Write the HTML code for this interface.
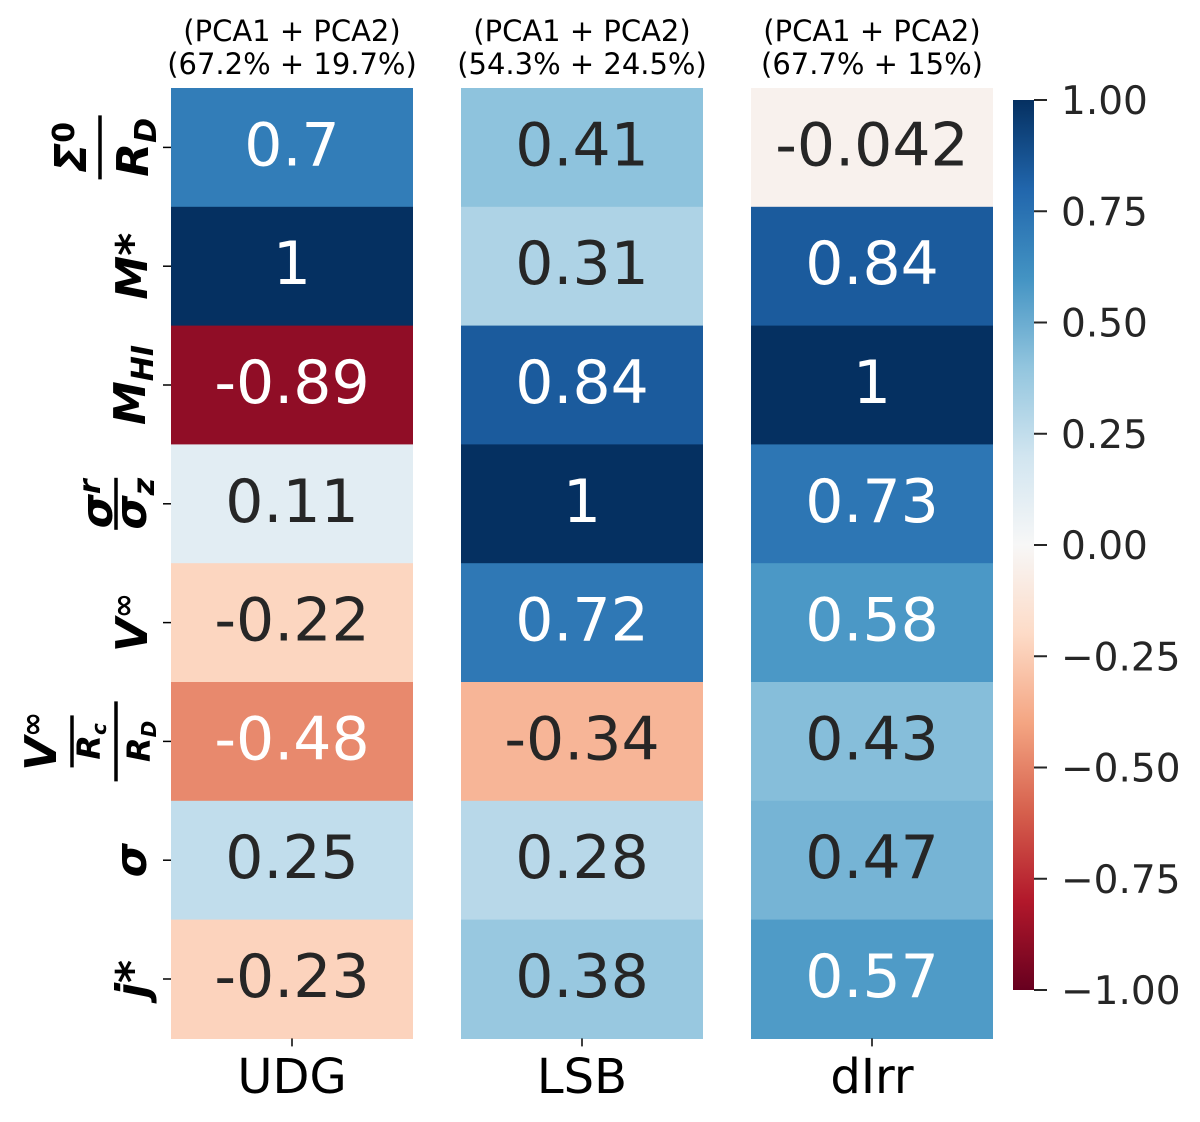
<!DOCTYPE html>
<html><head><meta charset="utf-8"><style>
html,body{margin:0;padding:0;background:#fff;}
svg{display:block;font-family:"DejaVu Sans","Liberation Sans",sans-serif;}
</style></head><body>
<svg id="chart" width="1200" height="1122" viewBox="0 0 1200 1122">
<g id="titles"></g>
<g id="cells"></g>
<g id="ylabels"></g>
<g id="xlabels"></g>
<g id="cbar"></g>
</svg>
<script>
const groups = ["UDG","LSB","dIrr"];
const titleLine1 = ["(PCA1 + PCA2)","(PCA1 + PCA2)","(PCA1 + PCA2)"];
const titleLine2 = ["(67.2% + 19.7%)","(54.3% + 24.5%)","(67.7% + 15%)"];
const udgValues = [0.7, 1, -0.89, 0.11, -0.22, -0.48, 0.25, -0.23];
const lsbValues = [0.41, 0.31, 0.84, 1, 0.72, -0.34, 0.28, 0.38];
const dirrValues = [-0.042, 0.84, 1, 0.73, 0.58, 0.43, 0.47, 0.57];
const cbarTicks = [1.00, 0.75, 0.50, 0.25, 0.00, -0.25, -0.50, -0.75, -1.00];
const cbarTickLabels = ["1.00","0.75","0.50","0.25","0.00","\u22120.25","\u22120.50","\u22120.75","\u22121.00"];

const NS="http://www.w3.org/2000/svg";
function mk(tag, attrs, parent, text){const e=document.createElementNS(NS,tag);for(const k in attrs)e.setAttribute(k,attrs[k]);if(text!==undefined)e.textContent=text;parent.appendChild(e);return e;}
const rdbu=["#67001f","#b2182b","#d6604d","#f4a582","#fddbc7","#f7f7f7","#d1e5f0","#92c5de","#4393c3","#2166ac","#053061"];
function hex(h){return [1,3,5].map(i=>parseInt(h.substr(i,2),16));}
function cmap(v){let t=(v+1)/2;t=Math.max(0,Math.min(1,t));const p=t*10;const i=Math.min(9,Math.floor(p));const f=p-i;const a=hex(rdbu[i]),b=hex(rdbu[i+1]);return a.map((x,k)=>Math.round(x+(b[k]-x)*f));}
function rgb(c){return `rgb(${c[0]},${c[1]},${c[2]})`;}
function lum(c){const l=c.map(x=>{x/=255;return x<=0.03928?x/12.92:Math.pow((x+0.055)/1.055,2.4);});return 0.2126*l[0]+0.7152*l[1]+0.0722*l[2];}

const colX=[171,461,751], colW=242, topY=88, rowH=118.8;
const yOf=i=>topY+i*rowH;
const series=[udgValues,lsbValues,dirrValues];
const cellsG=document.getElementById('cells');
const titlesG=document.getElementById('titles');
const xlG=document.getElementById('xlabels');
series.forEach((vals,c)=>{
  const cx=colX[c]+colW/2;
  let t=mk('text',{x:cx,y:41,'text-anchor':'middle','font-size':29,fill:'#000'},titlesG,titleLine1[c]);
  
  
  t=mk('text',{x:cx,y:74,'text-anchor':'middle','font-size':29,fill:'#000'},titlesG,titleLine2[c]);
  
  
  vals.forEach((v,r)=>{
    const col=cmap(v);
    const rc=mk('rect',{x:colX[c],y:yOf(r),width:colW,height:rowH+0.6,fill:rgb(col)},cellsG);
    
    
    const tx=mk('text',{x:cx,y:yOf(r)+rowH/2+18,'text-anchor':'middle','font-size':60,fill:lum(col)>0.408?'#262626':'#ffffff'},cellsG,String(v));
    
    
  });
  mk('line',{x1:cx,x2:cx,y1:topY+8*rowH,y2:topY+8*rowH+8,stroke:'#000','stroke-width':1.5},xlG);
  const lb=mk('text',{x:cx,y:1093,'text-anchor':'middle','font-size':48,fill:'#000'},xlG,groups[c]);
  
  
});

const ylG=document.getElementById('ylabels');
function rtxt(sx,yc,html,size,name){
  const g=mk('g',{transform:`translate(${sx},${yc}) rotate(-90)`},ylG);
  const t=mk('text',{x:0,y:0,'text-anchor':'middle','font-size':size,'font-weight':'bold',fill:'#000'},g);
  t.innerHTML=html;
  
  
}
function vbar(sx,yc,h){mk('line',{x1:sx,x2:sx,y1:yc-h,y2:yc+h,stroke:'#000','stroke-width':3.5},ylG);}
const I=s=>`<tspan font-style="italic">${s}</tspan>`;
for(let i=0;i<8;i++){const yc=yOf(i)+rowH/2;mk('line',{x1:163,x2:171,y1:yc,y2:yc,stroke:'#000','stroke-width':1.5},ylG);}
let yc;
yc=yOf(0)+rowH/2;
rtxt(86,yc,I('Σ')+'<tspan font-size="30" dy="-12">0</tspan>',44,'y-label-sigma0-num');
vbar(100,yc,32);
rtxt(148,yc,I('R')+'<tspan font-size="30" font-style="italic" dy="8">D</tspan>',44,'y-label-rd-den');
yc=yOf(1)+rowH/2;
rtxt(147,yc,I('M')+'<tspan font-style="italic">*</tspan>',44,'y-label-mstar');
yc=yOf(2)+rowH/2;
rtxt(145,yc,I('M')+'<tspan font-size="30" font-style="italic" dy="8">HI</tspan>',44,'y-label-mhi');
yc=yOf(3)+rowH/2;
rtxt(112,yc,I('σ')+'<tspan font-size="30" font-style="italic" dy="-12">r</tspan>',44,'y-label-sigmar-num');
vbar(116,yc,26);
rtxt(146,yc,I('σ')+'<tspan font-size="30" font-style="italic" dy="8">z</tspan>',44,'y-label-sigmaz-den');
yc=yOf(4)+rowH/2;
rtxt(147,yc,I('V')+'<tspan font-size="30" dy="-14">∞</tspan>',44,'y-label-vinf');
yc=yOf(5)+rowH/2;
rtxt(56,yc,I('V')+'<tspan font-size="30" dy="-14">∞</tspan>',44,'y-label-vinf-num');
vbar(72,yc,26);
rtxt(100,yc,I('R')+'<tspan font-size="20" font-style="italic" dy="6">c</tspan>',32,'y-label-rc');
vbar(116,yc,40);
rtxt(150,yc,I('R')+'<tspan font-size="20" font-style="italic" dy="6">D</tspan>',32,'y-label-rd');
yc=yOf(6)+rowH/2;
rtxt(146,yc,I('σ'),44,'y-label-sigma');
yc=yOf(7)+rowH/2;
rtxt(147,yc,I('j')+'<tspan font-style="italic">*</tspan>',44,'y-label-jstar');

const cbG=document.getElementById('cbar');
const cbTop=100, cbBot=990, cbX=1013, cbW=21;
const cyOf=v=>cbBot-(v+1)/2*(cbBot-cbTop);
const defs=mk('defs',{},cbG);
const grad=mk('linearGradient',{id:'cbg',x1:0,y1:1,x2:0,y2:0},defs);
rdbu.forEach((c,i)=>mk('stop',{offset:(i/10),'stop-color':c},grad));
const bar=mk('rect',{x:cbX,y:cbTop,width:cbW,height:cbBot-cbTop,fill:'url(#cbg)'},cbG);


cbarTicks.forEach((v,i)=>{
  mk('line',{x1:cbX+cbW,x2:cbX+cbW+13,y1:cyOf(v),y2:cyOf(v),stroke:'#262626','stroke-width':2},cbG);
  const t=mk('text',{x:1061,y:cyOf(v)+14,'font-size':39,fill:'#262626'},cbG,cbarTickLabels[i]);
  
  
});
</script>
</body></html>
